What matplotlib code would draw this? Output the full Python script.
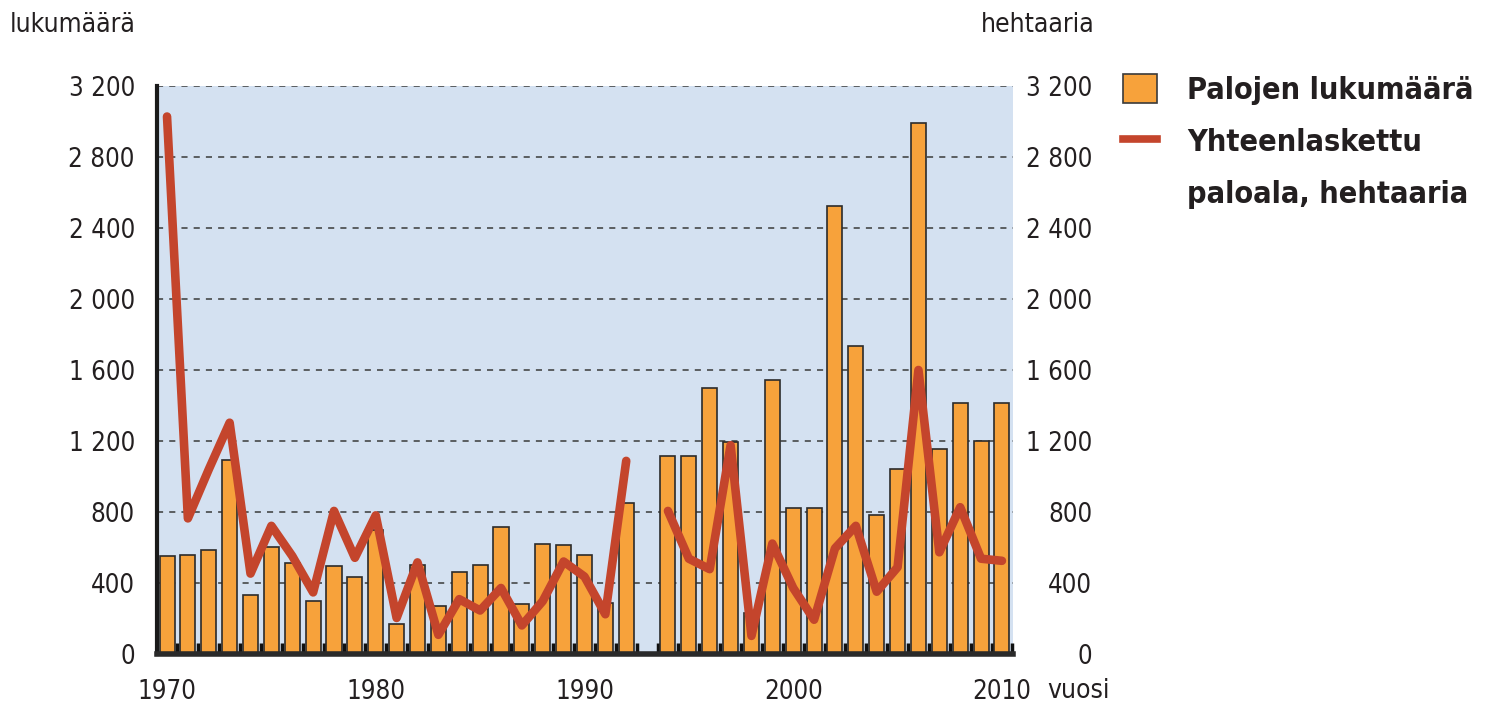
import numpy as np
import matplotlib.pyplot as plt
from matplotlib.lines import Line2D
from matplotlib.patches import Patch
from matplotlib.ticker import MultipleLocator

# Metsäpalot Suomessa 1970-2010 (1993 puuttuu)
years = list(range(1970, 2011))
fires = [550, 556, 584, 1092, 330, 601, 510, 296, 493, 432,
         696, 171, 504, 271, 463, 499, 715, 284, 620, 614,
         559, 288, 851, np.nan, 1117, 1117, 1500, 1193, 232, 1543,
         825, 823, 2522, 1735, 785, 1043, 2990, 1153, 1413, 1202,
         1413]
area = [3028, 764, 1040, 1303, 453, 722, 552, 347, 806, 542,
        781, 203, 516, 108, 309, 245, 372, 161, 298, 521,
        436, 224, 1088, np.nan, 806, 537, 478, 1176, 102, 622,
        372, 193, 595, 722, 351, 489, 1600, 573, 827, 537,
        525]
yticks = [0, 400, 800, 1200, 1600, 2000, 2400, 2800, 3200]
xticks = [1970, 1980, 1990, 2000, 2010]

plt.rcParams['font.family'] = ['DejaVu Sans']
plt.rcParams['font.stretch'] = 'condensed'
TXT = '#231f20'
BAR = '#f7a23b'
LINE = '#c4452c'
FS = 18.5

fig = plt.figure(figsize=(14.88, 7.09), dpi=100)
ax = fig.add_axes([157 / 1488, 1 - 654 / 709, 856 / 1488, 568 / 709])
ax.set_facecolor('#d4e1f1')

ax.bar(years, fires, width=0.72, color=BAR, edgecolor='#2b2b2b', linewidth=1.2, zorder=2)
ax.plot(years, area, color=LINE, linewidth=6.2, solid_capstyle='round',
        solid_joinstyle='round', zorder=3)

ax.set_xlim(1969.52, 2010.53)
ax.set_ylim(0, 3200)
ylabels = [f'{v:,}'.replace(',', ' ') for v in yticks]
ax.set_yticks(yticks)
ax.set_yticklabels(ylabels)
ax.set_xticks(xticks)
ax.xaxis.set_minor_locator(MultipleLocator(1, offset=0.5))
ax.tick_params(axis='x', which='major', length=0, pad=18, labelsize=FS, labelcolor=TXT)
ax.tick_params(axis='x', which='minor', direction='in', length=8, width=2.5, color='#111111')
ax.tick_params(axis='y', length=0, pad=16, labelsize=FS, labelcolor=TXT)

ax.grid(axis='y', linestyle=(0, (4, 4)), color='#3a3a3a', linewidth=1.1)
ax.set_axisbelow(True)
for s in ['top', 'right']:
    ax.spines[s].set_visible(False)
ax.spines['left'].set_linewidth(3)
ax.spines['bottom'].set_linewidth(4)
ax.spines['left'].set_color('#1a1a1a')
ax.spines['bottom'].set_color('#2a2a2a')

ax2 = ax.twinx()
ax2.set_ylim(0, 3200)
ax2.set_yticks(yticks)
ax2.set_yticklabels(ylabels, ha='right')
ax2.tick_params(axis='y', length=0, pad=57, labelsize=FS, labelcolor=TXT)
for s in ax2.spines.values():
    s.set_visible(False)

fig.text(10 / 1488, 1 - 25 / 709, 'lukumäärä', fontsize=19, color=TXT, va='center', ha='left')
fig.text(1095 / 1488, 1 - 25 / 709, 'hehtaaria', fontsize=19, color=TXT, va='center', ha='right')
fig.text(1047 / 1488, 1 - 691 / 709, 'vuosi', fontsize=19, color=TXT, va='center', ha='left')

handles = [Patch(facecolor=BAR, edgecolor='#3a3a3a', linewidth=1.2),
           Line2D([], [], color=LINE, linewidth=5.5),
           Line2D([], [], color='none')]
labels = ['Palojen lukumäärä', 'Yhteenlaskettu', 'paloala, hehtaaria']
leg = fig.legend(handles, labels, loc='upper left', bbox_to_anchor=(1123 / 1488, 1 - 74 / 709),
                 frameon=False, prop={'weight': 'bold', 'size': 22, 'stretch': 'condensed'},
                 handlelength=1.1, handleheight=1.1, handletextpad=1.0, labelspacing=0.69,
                 borderaxespad=0, borderpad=0)
for t in leg.get_texts():
    t.set_color(TXT)

fig.savefig('out.png', dpi=100)
